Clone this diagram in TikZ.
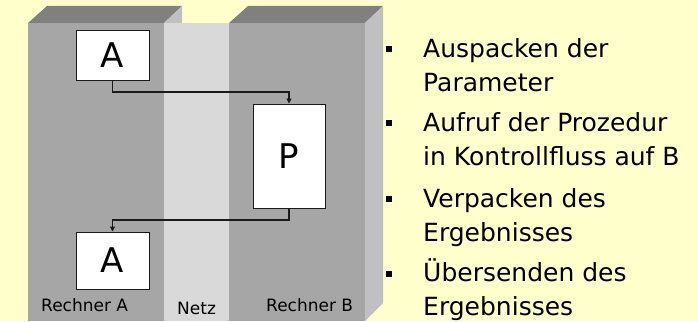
\documentclass[tikz,border=0pt]{standalone}
\usepackage{fontspec}
\setmainfont{DejaVu Sans}
\usetikzlibrary{arrows.meta}
\definecolor{bg}{HTML}{FFFFCC}
\definecolor{topface}{HTML}{808080}
\definecolor{frontface}{HTML}{A6A6A6}
\definecolor{sideface}{HTML}{C0C0C0}
\definecolor{netz}{HTML}{D9D9D9}
\definecolor{linec}{HTML}{1A1A1A}
\tikzset{
  procbox/.style={draw=linec, line width=1pt, fill=white, inner sep=0pt, font=\fontsize{34}{36}\selectfont},
  flow/.style={draw=linec, line width=1.1pt, -{Triangle[length=5pt,width=5pt]}},
  lbl/.style={anchor=base west, inner sep=0pt, font=\fontsize{17}{20}\selectfont, text=black},
  item/.style={anchor=base west, inner sep=0pt, font=\fontsize{25}{34.5}\selectfont, text=black, align=left},
  bullet/.style={fill=black, minimum size=6pt, inner sep=0pt, draw=none}
}
\begin{document}
\begin{tikzpicture}[x=1pt,y=-1pt]
\useasboundingbox (0,0) rectangle (698,321);
\fill[bg] (0,0) rectangle (698,321);
% Rechner A block
\fill[topface] (28,23) -- (47,6) -- (182,6) -- (164,23) -- cycle;
\fill[sideface] (164,23) -- (182,6) -- (182,303) -- (164,321) -- cycle;
\fill[frontface] (28,23) rectangle (164,321);
% Netz
\fill[netz] (164,23) rectangle (229,321);
% Rechner B block
\fill[topface] (229,23) -- (248,6) -- (383,6) -- (365,23) -- cycle;
\fill[sideface] (365,23) -- (383,6) -- (383,303) -- (365,321) -- cycle;
\fill[frontface] (229,23) rectangle (365,321);
% boxes
\node[procbox, minimum width=73pt, minimum height=49pt] (a1) at (112.5,55.5) {A};
\node[procbox, minimum width=72pt, minimum height=104pt] (p) at (289,156) {P};
\node[procbox, minimum width=73pt, minimum height=57pt] (a2) at (112.5,260.5) {A};
% connectors
\coordinate (k1) at (200,92);
\coordinate (k2) at (200,220);
\draw[flow] (a1.south) |- (k1) -| (p.north);
\draw[flow] (p.south) |- (k2) -| (a2.north);
% labels
\node[lbl] (la) at (41,311) {Rechner A};
\node[lbl] (ln) at (177,314) {Netz};
\node[lbl] (lb) at (266,311) {Rechner B};
% bullet items
\node[bullet] (b1) at (389,49) {};
\node[bullet] (b2) at (389,123) {};
\node[bullet] (b3) at (389,199) {};
\node[bullet] (b4) at (389,274) {};
\node[item] (t1) at (423,91.5) {Auspacken der\\Parameter};
\node[item] (t2) at (423,165.5) {Aufruf der Prozedur\\in Kontrollfluss auf B};
\node[item] (t3) at (423,241.5) {Verpacken des\\Ergebnisses};
\node[item] (t4) at (423,315.5) {Übersenden des\\Ergebnisses};
\end{tikzpicture}
\end{document}
